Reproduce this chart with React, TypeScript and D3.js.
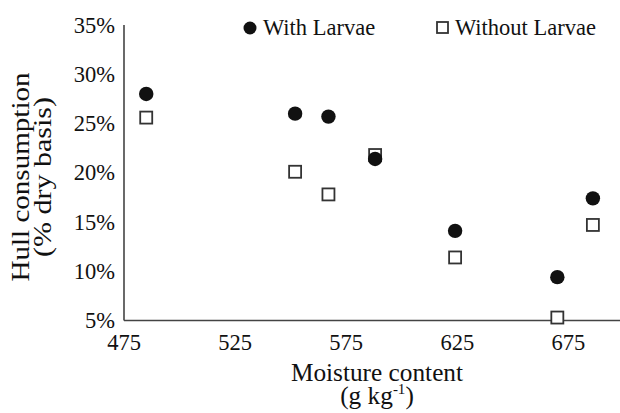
import * as d3 from 'd3';

// moisture content (g/kg) shared by both series
const moisture = [485, 552, 567, 588, 624, 670, 686];
const withLarvae = [28.0, 26.0, 25.7, 21.4, 14.1, 9.4, 17.4];
const withoutLarvae = [25.6, 20.1, 17.8, 21.8, 11.4, 5.3, 14.7];
const xTicks = [475, 525, 575, 625, 675];
const yTicks = [5, 10, 15, 20, 25, 30, 35];

const width = 620;
const height = 413;
const margin = { top: 25, right: -4, bottom: 92.5, left: 124 };
const font = '"Liberation Serif", "Times New Roman", serif';
const ink = '#111';

const App = () => {
  const xScale = d3.scaleLinear()
    .domain([475, 700])
    .range([margin.left, width - margin.right]);

  const yScale = d3.scaleLinear()
    .domain([5, 35])
    .range([height - margin.bottom, margin.top]);

  const x0 = xScale(475);
  const y0 = yScale(5);
  const yTop = yScale(35);

  return (
    <svg
      width={width}
      height={height}
      style={{ position: 'absolute', left: 0, top: 0, background: '#fff' }}
      fontFamily={font}
    >
      {/* axes */}
      <line x1={x0} x2={x0} y1={yTop} y2={y0} stroke="#444" strokeWidth={1.6} />
      <line x1={x0} x2={xScale(700)} y1={y0} y2={y0} stroke="#444" strokeWidth={1.6} />

      {yTicks.map(t => (
        <text key={t} x={115} y={yScale(t)} dy="0.34em" textAnchor="end" fontSize={22.5} fill={ink}>
          {t}%
        </text>
      ))}
      {xTicks.map(t => (
        <text key={t} x={xScale(t)} y={350} textAnchor="middle" fontSize={22.5} fill={ink}>
          {t}
        </text>
      ))}

      {/* axis titles */}
      <text x={377} y={381} textAnchor="middle" fontSize={25.3} fill={ink}>
        <tspan x={377}>Moisture content</tspan>
        <tspan x={377} dy={23}>(g kg</tspan>
        <tspan fontSize={15} dy={-10}>-1</tspan>
        <tspan dy={10}>)</tspan>
      </text>
      <g transform="translate(29,177) rotate(-90)">
        <text x={0} y={0} textAnchor="middle" fontSize={25} fill={ink}
          textLength={209} lengthAdjust="spacingAndGlyphs">Hull consumption</text>
        <text x={0} y={22} textAnchor="middle" fontSize={25} fill={ink}
          textLength={160} lengthAdjust="spacingAndGlyphs">(% dry basis)</text>
      </g>

      {/* points: squares underneath, circles on top */}
      {moisture.map((m, i) => (
        <rect
          key={'s' + m}
          x={xScale(m) - 6}
          y={yScale(withoutLarvae[i]) - 6}
          width={12}
          height={12}
          fill="#fff"
          stroke="#333"
          strokeWidth={1.8}
        />
      ))}
      {moisture.map((m, i) => (
        <circle key={'c' + m} cx={xScale(m)} cy={yScale(withLarvae[i])} r={7.2} fill="#111" />
      ))}

      {/* legend */}
      <circle cx={250} cy={28} r={6.5} fill="#111" />
      <text x={263} y={35} fontSize={22.5} fill={ink}>With Larvae</text>
      <rect x={437} y={22} width={11} height={11} fill="#fff" stroke="#333" strokeWidth={1.8} />
      <text x={455} y={35} fontSize={22.5} fill={ink}>Without Larvae</text>
    </svg>
  );
};

export default App;
